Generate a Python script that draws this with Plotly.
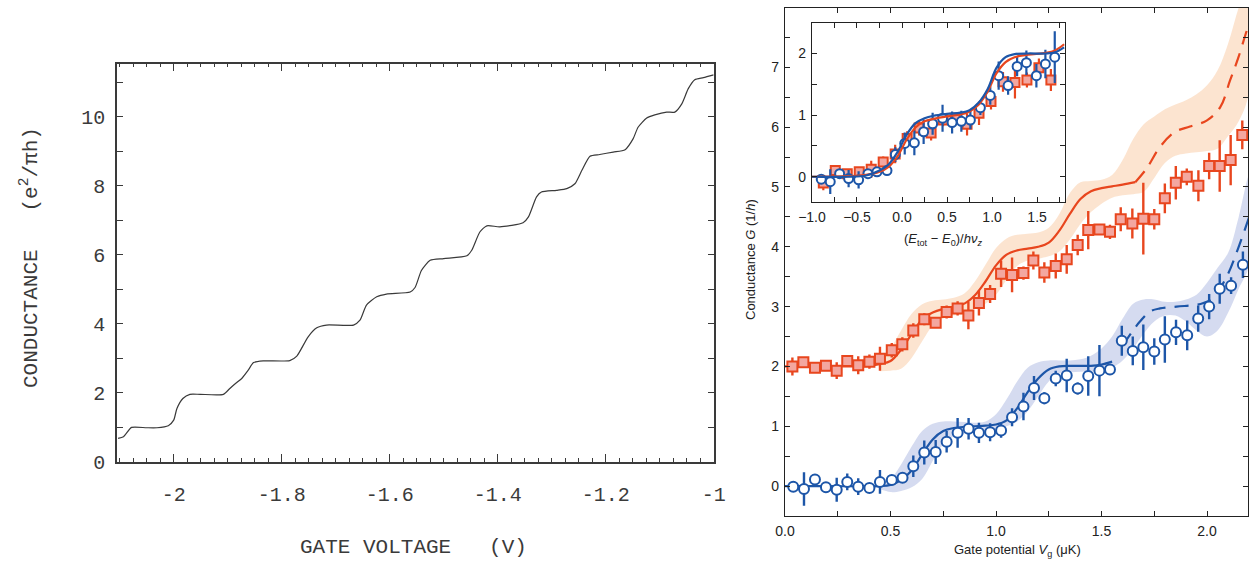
import plotly.graph_objects as go

# ---------------- Left panel: quantised conductance trace ----------------
left_gate_v = [-2.103, -2.093, -2.078, -2.05, -2.031, -2.01, -2.0, -1.994, -1.983, -1.97,
               -1.951, -1.908, -1.896, -1.885, -1.874, -1.862, -1.852, -1.834, -1.785, -1.772,
               -1.751, -1.735, -1.717, -1.667, -1.655, -1.643, -1.624, -1.606, -1.562, -1.553,
               -1.541, -1.525, -1.5, -1.457, -1.448, -1.433, -1.42, -1.396, -1.353, -1.343,
               -1.328, -1.319, -1.291, -1.272, -1.257, -1.244, -1.229, -1.211, -1.186, -1.164,
               -1.149, -1.14, -1.124, -1.109, -1.087, -1.072, -1.059, -1.047, -1.035, -1.019, -1.0]
left_cond = [0.67, 0.72, 0.99, 0.98, 0.98, 1.04, 1.2, 1.54, 1.83, 1.95,
             1.95, 1.95, 2.12, 2.27, 2.41, 2.65, 2.87, 2.92, 2.93, 3.06,
             3.62, 3.88, 3.96, 3.96, 4.1, 4.54, 4.78, 4.86, 4.92, 5.05,
             5.55, 5.84, 5.89, 5.97, 6.13, 6.66, 6.84, 6.81, 6.93, 7.1,
             7.68, 7.82, 7.87, 7.92, 8.06, 8.45, 8.86, 8.91, 8.98, 9.05,
             9.37, 9.7, 9.97, 10.06, 10.14, 10.14, 10.38, 10.82, 11.08, 11.14, 11.22]
left_xtick_vals = [-2.0, -1.8, -1.6, -1.4, -1.2, -1.0]
left_xtick_text = ["-2", "-1.8", "-1.6", "-1.4", "-1.2", "-1"]
left_ytick_vals = [0, 2, 4, 6, 8, 10]

# ---------------- Right panel: measured conductance ----------------
vg_red = [0.035, 0.087, 0.142, 0.194, 0.245, 0.295, 0.347, 0.40, 0.45, 0.506,
          0.556, 0.608, 0.66, 0.714, 0.766, 0.818, 0.869, 0.919, 0.972, 1.024,
          1.076, 1.13, 1.177, 1.229, 1.283, 1.335, 1.387, 1.437, 1.49, 1.54,
          1.591, 1.646, 1.698, 1.75, 1.80, 1.852, 1.904, 1.959, 2.01, 2.06, 2.112, 2.167]
g_red = [2.0, 2.07, 1.98, 2.01, 1.93, 2.09, 2.02, 2.08, 2.13, 2.27,
         2.37, 2.6, 2.79, 2.73, 2.91, 2.97, 2.85, 3.06, 3.21, 3.55,
         3.53, 3.56, 3.77, 3.57, 3.68, 3.79, 4.03, 4.28, 4.29, 4.25,
         4.46, 4.39, 4.47, 4.46, 4.81, 5.07, 5.17, 5.02, 5.35, 5.35, 5.45, 5.87]
g_red_err = [0.15, 0.06, 0.06, 0.08, 0.14, 0.09, 0.15, 0.12, 0.2, 0.12,
             0.12, 0.12, 0.1, 0.08, 0.11, 0.12, 0.23, 0.21, 0.15, 0.22,
             0.29, 0.11, 0.15, 0.17, 0.21, 0.24, 0.17, 0.32, 0.08, 0.12,
             0.2, 0.25, 0.6, 0.17, 0.25, 0.28, 0.14, 0.26, 0.22, 0.43, 0.42, 0.24]

vg_blue = [0.039, 0.09, 0.142, 0.194, 0.245, 0.295, 0.347, 0.40, 0.45, 0.506,
           0.557, 0.608, 0.66, 0.714, 0.766, 0.818, 0.87, 0.919, 0.972, 1.024,
           1.076, 1.13, 1.18, 1.229, 1.283, 1.335, 1.387, 1.437, 1.49, 1.54,
           1.596, 1.648, 1.698, 1.75, 1.80, 1.853, 1.906, 1.958, 2.01, 2.06, 2.114, 2.17]
g_blue = [-0.01, -0.05, 0.11, -0.02, -0.06, 0.07, -0.01, -0.03, 0.07, 0.1,
          0.14, 0.33, 0.56, 0.57, 0.74, 0.89, 0.96, 0.89, 0.9, 0.93,
          1.15, 1.33, 1.64, 1.47, 1.8, 1.85, 1.63, 1.84, 1.93, 1.95,
          2.43, 2.26, 2.32, 2.25, 2.45, 2.57, 2.52, 2.8, 3.0, 3.3, 3.35, 3.7]
g_blue_err = [0.08, 0.28, 0.05, 0.05, 0.2, 0.14, 0.14, 0.07, 0.2, 0.06,
              0.08, 0.18, 0.2, 0.2, 0.18, 0.25, 0.18, 0.17, 0.15, 0.12,
              0.15, 0.23, 0.2, 0.1, 0.13, 0.28, 0.1, 0.33, 0.43, 0.08,
              0.25, 0.24, 0.38, 0.22, 0.39, 0.21, 0.25, 0.22, 0.21, 0.25, 0.14, 0.22]

# model curves
fit_red_x = [0.0, 0.2, 0.4, 0.45, 0.5, 0.55, 0.6, 0.65, 0.7, 0.75, 0.8, 0.85, 0.9, 0.95,
             1.0, 1.05, 1.1, 1.15, 1.2, 1.25, 1.3, 1.35, 1.4, 1.45, 1.5, 1.55, 1.6, 1.66]
fit_red_y = [2.0, 2.0, 2.01, 2.04, 2.09, 2.28, 2.54, 2.79, 2.9, 2.96, 3.0, 3.05, 3.19, 3.42,
             3.69, 3.87, 3.94, 3.97, 4.0, 4.07, 4.27, 4.55, 4.8, 4.93, 4.98, 5.01, 5.04, 5.08]
fit_red_dash_x = [1.66, 1.714, 1.777, 1.848, 1.919, 1.998, 2.062, 2.109, 2.149, 2.188, 2.2]
fit_red_dash_y = [5.08, 5.31, 5.67, 5.92, 6.01, 6.11, 6.33, 6.78, 7.17, 7.61, 7.72]

fit_blue_x = [0.0, 0.2, 0.45, 0.5, 0.55, 0.6, 0.65, 0.7, 0.75, 0.8, 0.85, 0.9, 0.95, 1.0,
              1.05, 1.1, 1.15, 1.2, 1.25, 1.3, 1.35, 1.4, 1.45, 1.5, 1.55]
fit_blue_y = [0.0, 0.0, 0.0, 0.02, 0.1, 0.26, 0.53, 0.78, 0.92, 0.97, 0.99, 1.0, 1.01, 1.03,
              1.1, 1.3, 1.57, 1.8, 1.95, 2.0, 2.01, 2.01, 2.01, 2.03, 2.08]
fit_blue_dash_x = [1.6, 1.651, 1.682, 1.73, 1.777, 1.856, 1.95, 1.983, 2.02, 2.062, 2.1, 2.15, 2.2]
fit_blue_dash_y = [2.35, 2.61, 2.75, 2.92, 2.97, 3.0, 3.03, 3.06, 3.12, 3.31, 3.55, 4.0, 4.5]

band_x = [0.45, 0.5, 0.55, 0.6, 0.65, 0.7, 0.75, 0.8, 0.85, 0.9, 0.95, 1.0, 1.05, 1.1,
          1.15, 1.2, 1.25, 1.3, 1.35, 1.4, 1.45, 1.5, 1.55, 1.6, 1.65, 1.7, 1.75, 1.8,
          1.85, 1.9, 1.95, 2.0, 2.05, 2.1, 2.15, 2.2]
band_red_hi = [2.08, 2.3, 2.6, 2.88, 3.04, 3.1, 3.12, 3.15, 3.22, 3.42, 3.7, 3.98, 4.14, 4.2,
               4.22, 4.24, 4.32, 4.55, 4.9, 5.08, 5.1, 5.12, 5.2, 5.45, 5.8, 6.05, 6.18, 6.3,
               6.38, 6.45, 6.55, 6.7, 6.95, 7.4, 8.0, 8.5]
band_red_lo = [1.92, 1.93, 1.96, 2.14, 2.42, 2.68, 2.8, 2.85, 2.88, 2.97, 3.05, 3.2, 3.45, 3.68,
               3.77, 3.8, 3.84, 3.92, 4.12, 4.38, 4.58, 4.72, 4.82, 4.86, 4.88, 4.92, 5.15, 5.4,
               5.52, 5.56, 5.58, 5.6, 5.64, 5.85, 6.1, 6.6]
band_blue_hi = [0.05, 0.12, 0.36, 0.66, 0.92, 1.04, 1.08, 1.08, 1.07, 1.06, 1.08, 1.2, 1.45, 1.75,
                1.98, 2.07, 2.1, 2.1, 2.1, 2.12, 2.18, 2.3, 2.5, 2.8, 3.05, 3.12, 3.12, 3.08,
                3.08, 3.12, 3.2, 3.4, 3.65, 3.9, 4.5, 5.2]
band_blue_lo = [-0.05, -0.1, -0.08, -0.02, 0.12, 0.42, 0.7, 0.83, 0.88, 0.9, 0.92, 0.95, 1.0, 1.08,
                1.25, 1.5, 1.75, 1.88, 1.9, 1.91, 1.92, 1.93, 1.98, 2.1, 2.3, 2.55, 2.75, 2.85,
                2.85, 2.75, 2.6, 2.5, 2.6, 2.9, 3.3, 3.7]

# ---------------- Inset: rescaled energy axis ----------------
e_red = [-0.874, -0.741, -0.608, -0.475, -0.342, -0.209, -0.076, 0.057, 0.19, 0.323,
         0.456, 0.589, 0.722, 0.855, 0.988, 1.121, 1.254, 1.387, 1.52, 1.653]
gi_red = [-0.1, 0.1, 0.05, 0.08, 0.12, 0.24, 0.37, 0.62, 0.79, 0.71,
          0.92, 0.95, 0.85, 1.03, 1.22, 1.54, 1.53, 1.57, 1.77, 1.57]
gi_red_err = [0.12, 0.06, 0.06, 0.08, 0.14, 0.09, 0.15, 0.12, 0.12, 0.12,
              0.1, 0.08, 0.18, 0.19, 0.13, 0.16, 0.26, 0.12, 0.15, 0.18]
e_blue = [-0.897, -0.797, -0.693, -0.593, -0.482, -0.378, -0.278, -0.167, -0.074, 0.03,
          0.137, 0.24, 0.34, 0.45, 0.556, 0.659, 0.759, 0.87, 0.98, 1.073,
          1.178, 1.278, 1.381, 1.492, 1.592, 1.696]
gi_blue = [-0.04, -0.08, 0.05, -0.03, -0.05, 0.05, 0.08, 0.1, 0.36, 0.54,
           0.55, 0.73, 0.86, 0.95, 0.88, 0.9, 0.92, 1.12, 1.32, 1.64,
           1.48, 1.79, 1.85, 1.64, 1.83, 1.94]
gi_blue_err = [0.05, 0.2, 0.05, 0.14, 0.14, 0.07, 0.05, 0.06, 0.12, 0.18,
               0.2, 0.2, 0.18, 0.22, 0.18, 0.17, 0.15, 0.12, 0.15, 0.23,
               0.15, 0.16, 0.2, 0.19, 0.23, 0.42]
fit_e = [-1.0, -0.6, -0.4, -0.25, -0.15, -0.05, 0.05, 0.15, 0.25, 0.35, 0.5, 0.65, 0.75,
         0.85, 0.95, 1.05, 1.15, 1.25, 1.4, 1.6, 1.7, 1.8]
fit_i_blue = [0.0, 0.0, 0.02, 0.1, 0.2, 0.4, 0.68, 0.87, 0.95, 0.99, 1.02, 1.04, 1.08,
              1.2, 1.42, 1.77, 1.94, 1.99, 2.0, 2.0, 2.02, 2.1]
fit_i_red = [0.0, 0.01, 0.03, 0.08, 0.16, 0.33, 0.6, 0.8, 0.9, 0.94, 0.98, 1.01, 1.06,
             1.17, 1.38, 1.68, 1.86, 1.94, 1.98, 2.01, 2.05, 2.15]

RED = "#E8461E"
RED_FILL = "#F3A7A0"
BLUE = "#1D56A8"
BAND_RED = "rgba(250,205,170,0.55)"
BAND_BLUE = "rgba(185,195,230,0.6)"
INK = "#222222"
OLD = "#3a3a3a"

fig = go.Figure()

# left trace
fig.add_trace(go.Scatter(x=left_gate_v, y=left_cond, mode="lines",
                         line=dict(color=OLD, width=1.2, shape="spline", smoothing=0.6),
                         xaxis="x", yaxis="y", showlegend=False, hoverinfo="skip"))

# bands
fig.add_trace(go.Scatter(x=band_x + band_x[::-1], y=band_red_hi + band_red_lo[::-1],
                         fill="toself", fillcolor=BAND_RED, line=dict(width=0, shape="spline"),
                         mode="lines", xaxis="x2", yaxis="y2", showlegend=False, hoverinfo="skip"))
fig.add_trace(go.Scatter(x=band_x + band_x[::-1], y=band_blue_hi + band_blue_lo[::-1],
                         fill="toself", fillcolor=BAND_BLUE, line=dict(width=0, shape="spline"),
                         mode="lines", xaxis="x2", yaxis="y2", showlegend=False, hoverinfo="skip"))

# fits
for xs, ys, col, dash in [(fit_red_x, fit_red_y, RED, "solid"),
                          (fit_red_dash_x, fit_red_dash_y, RED, "14px,9px"),
                          (fit_blue_x, fit_blue_y, BLUE, "solid"),
                          (fit_blue_dash_x, fit_blue_dash_y, BLUE, "14px,9px")]:
    fig.add_trace(go.Scatter(x=xs, y=ys, mode="lines",
                             line=dict(color=col, width=2.2, dash=dash, shape="spline"),
                             xaxis="x2", yaxis="y2", showlegend=False, hoverinfo="skip"))

# data
fig.add_trace(go.Scatter(x=vg_red, y=g_red, mode="markers",
                         error_y=dict(type="data", array=g_red_err, color=RED, thickness=2.4, width=0),
                         marker=dict(symbol="square", size=10, color=RED_FILL,
                                     line=dict(color=RED, width=2)),
                         xaxis="x2", yaxis="y2", showlegend=False))
fig.add_trace(go.Scatter(x=vg_blue, y=g_blue, mode="markers",
                         error_y=dict(type="data", array=g_blue_err, color=BLUE, thickness=2.4, width=0),
                         marker=dict(symbol="circle", size=10, color="white",
                                     line=dict(color=BLUE, width=2)),
                         xaxis="x2", yaxis="y2", showlegend=False))

# inset
fig.add_trace(go.Scatter(x=e_red, y=gi_red, mode="markers",
                         error_y=dict(type="data", array=gi_red_err, color=RED, thickness=2.2, width=0),
                         marker=dict(symbol="square", size=9, color=RED_FILL,
                                     line=dict(color=RED, width=2)),
                         xaxis="x3", yaxis="y3", showlegend=False))
fig.add_trace(go.Scatter(x=e_blue, y=gi_blue, mode="markers",
                         error_y=dict(type="data", array=gi_blue_err, color=BLUE, thickness=2.2, width=0),
                         marker=dict(symbol="circle", size=9, color="white",
                                     line=dict(color=BLUE, width=2)),
                         xaxis="x3", yaxis="y3", showlegend=False))
fig.add_trace(go.Scatter(x=fit_e, y=fit_i_red, mode="lines",
                         line=dict(color=RED, width=2.2, shape="spline"),
                         xaxis="x3", yaxis="y3", showlegend=False, hoverinfo="skip"))
fig.add_trace(go.Scatter(x=fit_e, y=fit_i_blue, mode="lines",
                         line=dict(color=BLUE, width=2.2, shape="spline"),
                         xaxis="x3", yaxis="y3", showlegend=False, hoverinfo="skip"))

# dashed guide lines in inset
dash_line = dict(color=INK, width=1.3, dash="12px,8px")
fig.add_shape(type="line", xref="x3", yref="y3 domain", x0=0, x1=0, y0=0, y1=1, line=dash_line, layer="below")
fig.add_shape(type="line", xref="x3", yref="y3 domain", x0=1, x1=1, y0=0, y1=1, line=dash_line, layer="below")
fig.add_shape(type="line", xref="x3 domain", yref="y3", x0=0, x1=1, y0=1, y1=1, line=dash_line, layer="below")

OLDFONT = dict(family="Liberation Mono, DejaVu Sans Mono, monospace", size=20, color=OLD)
OLDTITLE = dict(family="Liberation Mono, DejaVu Sans Mono, monospace", size=21, color=OLD)
NEWFONT = dict(family="Liberation Sans, Arial, sans-serif", size=14, color=INK)

common_old = dict(showline=True, linecolor=OLD, linewidth=1.5, mirror="ticks", ticks="inside",
                  tickcolor=OLD, showgrid=False, zeroline=False, tickfont=OLDFONT, automargin=False)
common_new = dict(showline=True, linecolor=INK, linewidth=1.2, mirror="ticks", ticks="inside",
                  tickcolor=INK, showgrid=False, zeroline=False, tickfont=NEWFONT, automargin=False)

fig.update_layout(
    width=1254, height=564, margin=dict(l=0, r=0, t=0, b=0, autoexpand=False),
    paper_bgcolor="white", plot_bgcolor="white", showlegend=False,
    xaxis=dict(domain=[0.0933, 0.5691], range=[-2.105, -1.0], anchor="y",
               tickvals=left_xtick_vals, ticktext=left_xtick_text, ticklen=8, tickwidth=1.2,
               minor=dict(dtick=0.025, ticks="inside", ticklen=4, tickcolor=OLD, tickwidth=1),
               ticklabelstandoff=14, **common_old),
    yaxis=dict(domain=[0.1817, 0.8874], range=[0, 11.55], anchor="x",
               tickvals=left_ytick_vals, ticklen=6, tickwidth=1.2,
               minor=dict(dtick=1, ticks="inside", ticklen=6, tickcolor=OLD, tickwidth=1),
               ticklabelstandoff=6, **common_old),
    xaxis2=dict(domain=[0.6260, 0.9952], range=[0, 2.194], anchor="y2",
                dtick=0.5, tickformat=".1f", ticklen=5,
                minor=dict(dtick=0.25, ticks="inside", ticklen=5, tickcolor=INK),
                ticklabelstandoff=2, **common_new),
    yaxis2=dict(domain=[0.0851, 0.9867], range=[-0.5, 8], anchor="x2",
                dtick=1, ticklen=5,
                minor=dict(dtick=0.5, ticks="inside", ticklen=5, tickcolor=INK),
                ticklabelstandoff=2, **common_new),
    xaxis3=dict(domain=[0.6475, 0.8493], range=[-1.0, 1.81], anchor="y3",
                tickvals=[-1.0, -0.5, 0.0, 0.5, 1.0, 1.5],
                ticktext=["\u22121.0", "\u22120.5", "0.0", "0.5", "1.0", "1.5"], ticklen=5,
                minor=dict(dtick=0.25, ticks="inside", ticklen=5, tickcolor=INK),
                ticklabelstandoff=2, **common_new),
    yaxis3=dict(domain=[0.6418, 0.9598], range=[-0.41, 2.5], anchor="x3",
                dtick=1, ticklen=5,
                minor=dict(dtick=0.5, ticks="inside", ticklen=5, tickcolor=INK),
                ticklabelstandoff=2, **common_new),
)

annos = [
    dict(text="CONDUCTANCE   (e<sup>2</sup>/\u03c0h)", x=30, y=258, textangle=-90, font=OLDTITLE),
    dict(text="GATE VOLTAGE   (V)", x=413, y=547, font=OLDTITLE),
    dict(text="Conductance <i>G</i> (1/<i>h</i>)", x=750, y=260, textangle=-90,
         font=dict(family="Liberation Sans, Arial, sans-serif", size=13, color=INK)),
    dict(text="Gate potential <i>V</i><sub>g</sub> (\u03bcK)", x=1017, y=550,
         font=dict(family="Liberation Sans, Arial, sans-serif", size=13, color=INK)),
    dict(text="(<i>E</i><sub>tot</sub> \u2212 <i>E</i><sub>0</sub>)/<i>h\u03bd</i><sub><i>z</i></sub>",
         x=943, y=240, font=dict(family="Liberation Sans, Arial, sans-serif", size=13, color=INK)),
]
for a in annos:
    fig.add_annotation(text=a["text"], x=a["x"] / 1254, y=1 - a["y"] / 564, xref="paper", yref="paper",
                       showarrow=False, xanchor="center", yanchor="middle",
                       textangle=a.get("textangle", 0), font=a["font"])

fig.write_html("out.html", config={"displayModeBar": False},
               post_script="document.body.style.margin='0';document.body.style.overflow='hidden';")
